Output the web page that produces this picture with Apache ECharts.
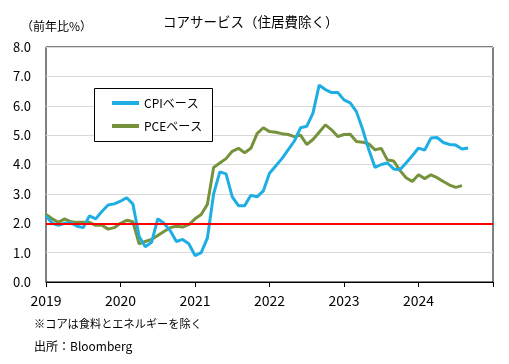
<!DOCTYPE html>
<html>
<head>
<meta charset="utf-8">
<script src="https://cdn.jsdelivr.net/npm/echarts@6/dist/echarts.min.js"></script>
<style>
html,body{margin:0;padding:0;background:#fff;}
#chart{width:509px;height:364px;}
</style>
</head>
<body>
<div id="chart"></div>
<script>
// Year labels at x-axis ticks (Jan of each year); 2025 tick unlabeled
const yearLabels = ['2019', '2020', '2021', '2022', '2023', '2024', ''];
const yTicks = [0, 1, 2, 3, 4, 5, 6, 7, 8];

// Monthly YoY %, Jan 2019 onward
const cpiBase = [
  2.25, 2.0, 1.93, 2.0, 2.02, 1.9, 1.85, 2.25, 2.15, 2.4, 2.62, 2.66,
  2.75, 2.87, 2.65, 1.55, 1.2, 1.35, 2.15, 2.0, 1.75, 1.38, 1.45, 1.3,
  0.9, 1.0, 1.5, 3.0, 3.75, 3.68, 2.9, 2.6, 2.6, 2.95, 2.9, 3.1,
  3.7, 3.95, 4.2, 4.5, 4.8, 5.25, 5.3, 5.75, 6.7, 6.55, 6.45, 6.45,
  6.2, 6.1, 5.8, 5.2, 4.5, 3.9, 4.0, 4.05, 3.85, 3.82, 4.05, 4.3,
  4.56, 4.49, 4.9, 4.92, 4.75, 4.68, 4.66, 4.53, 4.56
];
const pceBase = [
  2.3, 2.15, 2.03, 2.15, 2.05, 2.03, 2.03, 2.03, 1.93, 1.93, 1.8, 1.85,
  2.0, 2.1, 2.05, 1.3, 1.38, 1.45, 1.58, 1.72, 1.85, 1.9, 1.87, 1.95,
  2.15, 2.3, 2.65, 3.9, 4.05, 4.2, 4.45, 4.55, 4.4, 4.55, 5.05, 5.25,
  5.12, 5.1, 5.05, 5.02, 4.95, 5.0, 4.68, 4.85, 5.1, 5.35, 5.18, 4.95,
  5.02, 5.03, 4.78, 4.76, 4.7, 4.5, 4.55, 4.15, 4.12, 3.8, 3.55, 3.42,
  3.65, 3.52, 3.65, 3.55, 3.42, 3.3, 3.22, 3.28
];
const refLevel = 2.0;

// Category list: 73 months Jan 2019 .. Jan 2025
const months = [];
for (let y = 0; y < yearLabels.length; y++) {
  const maxM = (y === yearLabels.length - 1) ? 1 : 12;
  for (let m = 0; m < maxM; m++) months.push(m === 0 ? yearLabels[y] : '');
}

const font = '"Noto Sans CJK JP", "Noto Sans", sans-serif';
const chart = echarts.init(document.getElementById('chart'));
chart.setOption({
  animation: false,
  backgroundColor: '#fff',
  textStyle: { fontFamily: font },
  grid: {
    left: 46, right: 16, top: 47, bottom: 82,
    show: true, borderColor: '#000', borderWidth: 1, backgroundColor: 'transparent'
  },
  graphic: [
    { type: 'text', left: 163, top: 15, style: { text: 'コアサービス（住居費除く）', fontSize: 13.5, fill: '#000', fontFamily: font } },
    { type: 'text', left: 21, top: 20, style: { text: '（前年比%）', fontSize: 12, fill: '#000', fontFamily: font } },
    { type: 'text', left: 34, top: 318, style: { text: '※コアは食料とエネルギーを除く', fontSize: 11.2, fill: '#000', fontFamily: font } },
    { type: 'text', left: 34, top: 340, style: { text: '出所：Bloomberg', fontSize: 12, fill: '#000', fontFamily: font } },
    { type: 'rect', z: 3, shape: { x: 94.5, y: 88.5, width: 118, height: 53 },
      style: { fill: '#fff', stroke: '#000', lineWidth: 1 } }
  ],
  legend: {
    left: 94, top: 88, orient: 'vertical', z: 5,
    padding: [9, 2, 9, 18], itemGap: 11, itemWidth: 27, itemHeight: 4, icon: 'rect',
    textStyle: { fontSize: 12, color: '#000', fontFamily: font },
    data: ['CPIベース', 'PCEベース']
  },
  xAxis: {
    type: 'category',
    data: months,
    boundaryGap: false,
    axisLine: { show: true, lineStyle: { color: '#000', width: 1 } },
    axisTick: { show: true, interval: 11, length: 5, inside: false, lineStyle: { color: '#000' } },
    axisLabel: { interval: 11, fontSize: 14, color: '#000', margin: 12, fontFamily: font, showMaxLabel: true },
    splitLine: { show: false }
  },
  yAxis: {
    type: 'value',
    min: yTicks[0], max: yTicks[yTicks.length - 1], interval: 1,
    axisLine: { show: false },
    axisTick: { show: false },
    axisLabel: { formatter: v => v.toFixed(1), fontSize: 13, color: '#000', margin: 15, fontFamily: font },
    splitLine: { show: true, lineStyle: { color: '#d9d9d9', width: 1 } }
  },
  series: [
    {
      name: 'CPIベース', type: 'line', data: cpiBase, showSymbol: false, symbol: 'none',
      lineStyle: { color: '#1eaee4', width: 3 }, itemStyle: { color: '#1eaee4' }, z: 2.5
    },
    {
      name: 'PCEベース', type: 'line', data: pceBase, showSymbol: false, symbol: 'none',
      lineStyle: { color: '#76923c', width: 3 }, itemStyle: { color: '#76923c' }, z: 2,
      markLine: {
        silent: true, symbol: 'none', label: { show: false },
        lineStyle: { color: '#ff0000', width: 2, type: 'solid' },
        data: [{ yAxis: refLevel }]
      }
    }
  ]
});
</script>
</body>
</html>
